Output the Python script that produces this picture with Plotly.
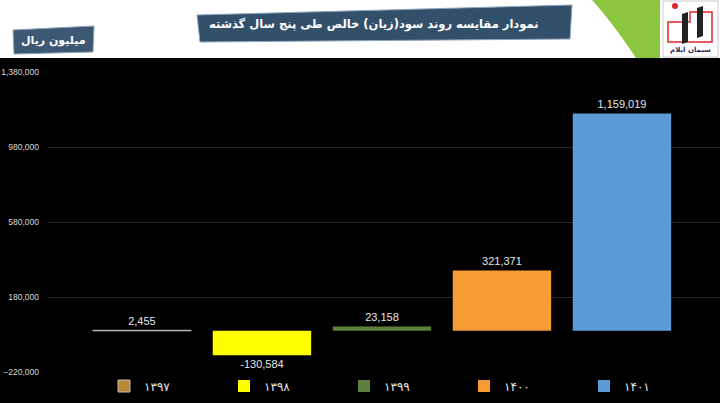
import plotly.graph_objects as go

# ---- data ----
years = ["۱۳۹۷", "۱۳۹۸", "۱۳۹۹", "۱۴۰۰", "۱۴۰۱"]
net_profit = [2455, -130584, 23158, 321371, 1159019]
bar_colors = ["#b8892e", "#ffff00", "#5e7f3e", "#f99b35", "#5b9bd8"]
tick_values = [-220000, 180000, 580000, 980000, 1380000]
title_text = "نمودار مقایسه روند سود(زیان) خالص طی پنج سال گذشته"
unit_text = "میلیون ریال"
logo_text = "سیمان ایلام"

W, H = 720, 403


def X(px):
    return px / W


def Y(py):
    return 1 - py / H


fig = go.Figure()
for i, (yr, v, c) in enumerate(zip(years, net_profit, bar_colors)):
    fig.add_trace(go.Bar(
        x=[i], y=[v], name=yr, width=0.82,
        marker=dict(color=c,
                    line=dict(color="#bfbfbf" if i == 0 else c, width=1 if i == 0 else 0)),
        text=[f"{v:,}"], textposition="outside", cliponaxis=False,
        textfont=dict(color="#e6e6e6", size=11, family="Liberation Sans"),
    ))


def poly(pts):
    return "M " + " L ".join(f"{X(a):.5f},{Y(b):.5f}" for a, b in pts) + " Z"


shapes = [
    # white header
    dict(type="rect", xref="paper", yref="paper", x0=0, x1=1, y0=Y(58), y1=1,
         fillcolor="white", line=dict(width=0), layer="below"),
    # green curved band
    dict(type="path", xref="paper", yref="paper",
         path=f"M {X(592):.5f},{Y(0):.5f} Q {X(612):.5f},{Y(22):.5f} {X(636):.5f},{Y(58):.5f} "
              f"L {X(660):.5f},{Y(58):.5f} L {X(660):.5f},{Y(0):.5f} Z",
         fillcolor="#8cc63f", line=dict(width=0)),
    # logo box
    dict(type="rect", xref="paper", yref="paper", x0=X(663), x1=X(718), y0=Y(57), y1=Y(1),
         fillcolor="white", line=dict(color="#c8c8c8", width=1)),
    dict(type="path", xref="paper", yref="paper",
         path=poly([(668, 22), (690, 22), (690, 12), (712, 12), (712, 42), (668, 42)]),
         fillcolor="rgba(0,0,0,0)", line=dict(color="#e0262b", width=1.5)),
    dict(type="path", xref="paper", yref="paper",
         path=poly([(682, 14), (688, 12), (688, 42), (682, 44)]),
         fillcolor="#222222", line=dict(width=0)),
    dict(type="path", xref="paper", yref="paper",
         path=poly([(697, 8), (703, 6), (703, 36), (697, 38)]),
         fillcolor="#222222", line=dict(width=0)),
    dict(type="circle", xref="paper", yref="paper", x0=X(672), x1=X(678), y0=Y(9), y1=Y(3),
         fillcolor="#e0262b", line=dict(width=0)),
    # title banner
    dict(type="path", xref="paper", yref="paper",
         path=poly([(197, 15), (572, 5), (570, 39), (200, 42)]),
         fillcolor="#33506b", line=dict(color="#8da3b8", width=1)),
    # unit banner
    dict(type="path", xref="paper", yref="paper",
         path=poly([(13, 30), (94, 26), (93, 52), (14, 54)]),
         fillcolor="#3c5873", line=dict(color="#8da3b8", width=1)),
]

annotations = [
    dict(xref="paper", yref="paper", x=X(373), y=Y(24), xanchor="center", yanchor="middle",
         text=f"<b>{title_text}</b>", showarrow=False,
         font=dict(color="white", size=11.5, family="DejaVu Sans")),
    dict(xref="paper", yref="paper", x=X(53), y=Y(40), xanchor="center", yanchor="middle",
         text=f"<b>{unit_text}</b>", showarrow=False,
         font=dict(color="white", size=11, family="DejaVu Sans")),
    dict(xref="paper", yref="paper", x=X(690), y=Y(50), xanchor="center", yanchor="middle",
         text=f"<b>{logo_text}</b>", showarrow=False,
         font=dict(color="#3a2a5a", size=7, family="DejaVu Sans")),
]

fig.update_layout(
    width=W, height=H,
    margin=dict(l=0, r=0, t=0, b=0, autoexpand=False),
    paper_bgcolor="black", plot_bgcolor="black",
    barmode="overlay",
    showlegend=True,
    legend=dict(orientation="h", x=X(104), xanchor="left", y=Y(386), yanchor="middle",
                entrywidth=75, entrywidthmode="pixels",
                font=dict(color="#e6e6e6", size=12, family="DejaVu Sans"),
                bgcolor="rgba(0,0,0,0)"),
    xaxis=dict(domain=[X(48), 1], range=[-0.783, 4.817], showticklabels=False,
               showgrid=False, zeroline=False, showline=False, ticks=""),
    yaxis=dict(domain=[Y(372), Y(72)], range=[-220000, 1380000], tickvals=tick_values,
               tickformat=",d", showgrid=True, gridcolor="#262626", gridwidth=1,
               zeroline=False, showline=False, ticks="", ticklabelstandoff=8,
               tickfont=dict(color="#d9d9d9", size=8.5, family="Liberation Sans")),
    shapes=shapes,
    annotations=annotations,
)

fig.write_html("out.html")
